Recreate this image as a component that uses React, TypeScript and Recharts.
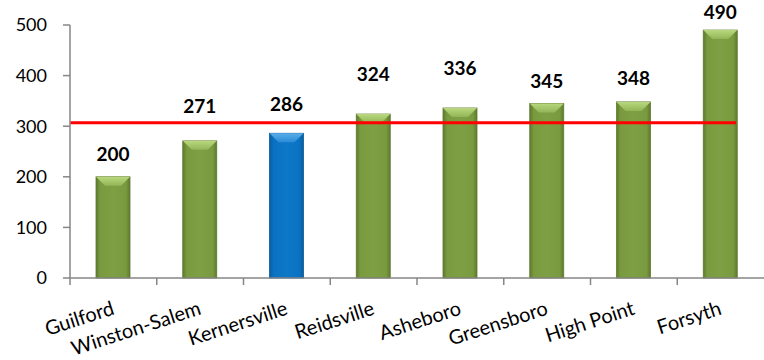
import React from 'react';
import { BarChart, Bar, XAxis, YAxis, ReferenceLine, LabelList } from 'recharts';

const categories = ['Guilford', 'Winston-Salem', 'Kernersville', 'Reidsville', 'Asheboro', 'Greensboro', 'High Point', 'Forsyth'];
const values = [200, 271, 286, 324, 336, 345, 348, 490];
const highlighted = 'Kernersville';
const targetValue = 307;
const yTicks = [0, 100, 200, 300, 400, 500];

// visual label lift (px above bar top) to mimic the manually-placed labels
const labelLift = [23, 35, 30, 41, 40, 23, 24, 19];

const data = categories.map((name, i) => ({ name, value: values[i] }));

const W = 764;
const H = 360;
const MARGIN = { top: 25, right: 0, bottom: 0, left: 0 };
const Y_AXIS_W = 70;
const X_AXIS_H = 82;
const BAND = (W - MARGIN.left - MARGIN.right - Y_AXIS_W) / categories.length;
const FONT = 'Lato, "Open Sans", sans-serif';
const AXIS_COLOR = '#868686';

const BevelBar = (props: any) => {
  const { x, y, width, height, payload } = props;
  if (height <= 0) return null;
  const blue = payload && payload.name === highlighted;
  const body = blue ? 'url(#blueBody)' : 'url(#greenBody)';
  const top = blue ? 'url(#blueTop)' : 'url(#greenTop)';
  const b = Math.min(9, height / 2);
  return (
    <g>
      <rect x={x} y={y} width={width} height={height} fill={body} stroke={blue ? '#0a5a98' : '#5f7a30'} strokeWidth={0.8} />
      <polygon
        points={`${x},${y} ${x + width},${y} ${x + width - b},${y + b} ${x + b},${y + b}`}
        fill={top}
      />
    </g>
  );
};

const XTick = (props: any) => {
  const { x, y, payload } = props;
  return (
    <g>
      <line x1={x - BAND / 2} y1={y} x2={x - BAND / 2} y2={y + 7} stroke={AXIS_COLOR} strokeWidth={1.5} />
      <text
        x={x + 2}
        y={y + 36}
        textAnchor="end"
        transform={`rotate(-18, ${x + 2}, ${y + 36})`}
        fontFamily={FONT}
        fontSize={20}
        fill="#000"
      >
        {payload.value}
      </text>
    </g>
  );
};

const ValueLabel = (props: any) => {
  const { x, y, width, value, index } = props;
  return (
    <text
      x={x + width / 2}
      y={y - labelLift[index]}
      textAnchor="middle"
      dominantBaseline="central"
      fontFamily={FONT}
      fontWeight={700}
      fontSize={19}
      fill="#000"
    >
      {value}
    </text>
  );
};

const TargetLine = (props: any) => {
  const { x1, y1, x2, y2 } = props;
  return <line x1={x1} y1={y1} x2={x2 - 28} y2={y2} stroke="#FF0000" strokeWidth={3} />;
};

export default function App() {
  return (
    <div style={{ position: 'absolute', left: 0, top: 0, width: W, height: H, background: '#fff' }}>
      <BarChart width={W} height={H} data={data} margin={MARGIN} barCategoryGap="30%">
        <defs>
          <linearGradient id="greenBody" x1="0" y1="0" x2="1" y2="0">
            <stop offset="0%" stopColor="#5d7a2c" />
            <stop offset="12%" stopColor="#7a9a40" />
            <stop offset="50%" stopColor="#7f9f44" />
            <stop offset="88%" stopColor="#7a9a40" />
            <stop offset="100%" stopColor="#5d7a2c" />
          </linearGradient>
          <linearGradient id="greenTop" x1="0" y1="0" x2="0" y2="1">
            <stop offset="0%" stopColor="#b9d87e" />
            <stop offset="100%" stopColor="#93b556" />
          </linearGradient>
          <linearGradient id="blueBody" x1="0" y1="0" x2="1" y2="0">
            <stop offset="0%" stopColor="#0a5c9e" />
            <stop offset="12%" stopColor="#0a72c2" />
            <stop offset="50%" stopColor="#0d78c8" />
            <stop offset="88%" stopColor="#0a72c2" />
            <stop offset="100%" stopColor="#0a5c9e" />
          </linearGradient>
          <linearGradient id="blueTop" x1="0" y1="0" x2="0" y2="1">
            <stop offset="0%" stopColor="#5aaee8" />
            <stop offset="100%" stopColor="#2a8ad6" />
          </linearGradient>
        </defs>
        <XAxis
          dataKey="name"
          height={X_AXIS_H}
          interval={0}
          axisLine={{ stroke: AXIS_COLOR, strokeWidth: 1.5 }}
          tickLine={false}
          tickSize={0}
          tickMargin={0}
          tick={<XTick />}
        />
        <YAxis
          width={Y_AXIS_W}
          domain={[0, 500]}
          ticks={yTicks}
          interval={0}
          axisLine={{ stroke: AXIS_COLOR, strokeWidth: 1.5 }}
          tickLine={{ stroke: AXIS_COLOR, strokeWidth: 1.5 }}
          tickSize={7}
          tickMargin={16}
          tick={{ fill: '#000', fontSize: 18, fontFamily: FONT }}
        />
        <Bar dataKey="value" barSize={34} isAnimationActive={false} shape={<BevelBar />}>
          <LabelList dataKey="value" content={<ValueLabel />} />
        </Bar>
        <ReferenceLine y={targetValue} shape={<TargetLine />} ifOverflow="extendDomain" />
      </BarChart>
    </div>
  );
}
